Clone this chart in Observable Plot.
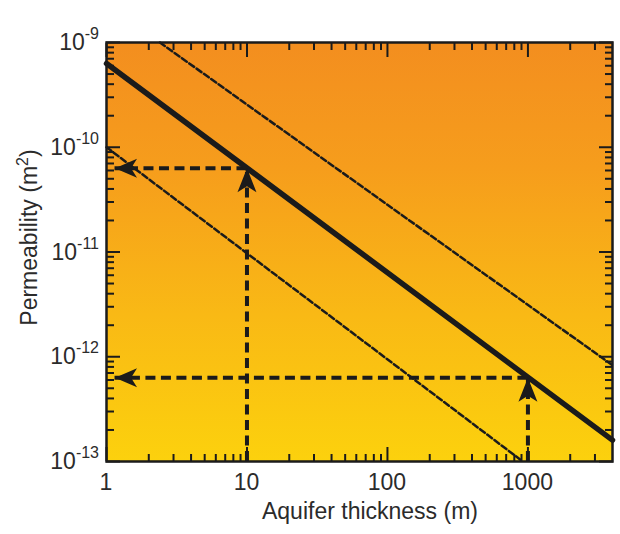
<!DOCTYPE html>
<html>
<head>
<meta charset="utf-8">
<script src="https://cdn.jsdelivr.net/npm/d3@7"></script>
<script src="https://cdn.jsdelivr.net/npm/@observablehq/plot@0.6"></script>
<style>
  html, body { margin: 0; padding: 0; background: #fff; overflow: hidden; }
  #chart svg { display: block; }
</style>
</head>
<body>
<div id="chart"></div>
<script>
// ---- data ----
const xDomain = [1, 4000];
const yDomain = [1e-13, 1e-9];

// thick solid line (end points)
const mainH = [1, 4000];
const mainK = [6.3e-10, 1.6e-13];
// thin dashed line above
const upperH = [2.4, 4000];
const upperK = [1e-9, 8.3e-13];
// thin dashed line below
const lowerH = [1, 920];
const lowerK = [1e-10, 1e-13];

// dashed read-off arrows
const arrowH = [10, 1000];
const arrowK = [6.3e-11, 6.3e-13];
const arrowTipH = 1.15;

// ticks
const xMajor = [1, 10, 100, 1000];
const xMinor = [2, 3, 4, 5, 6, 7, 8, 9, 20, 30, 40, 50, 60, 70, 80, 90,
                200, 300, 400, 500, 600, 700, 800, 900, 2000, 3000];
const xLabels = ["1", "10", "100", "1000"];
const yMajor = [1e-13, 1e-12, 1e-11, 1e-10, 1e-9];
const yExp = ["-13", "-12", "-11", "-10", "-9"];
const yMinorMult = [2, 3, 4, 5, 6, 7, 8, 9];
const yMinor = yMajor.slice(0, -1).flatMap(d => yMinorMult.map(m => m * d));

const xTitle = "Aquifer thickness (m)";
const yTitle = "Permeability (m";

// ---- tables built from the arrays ----
const line = (H, K) => H.map((h, i) => ({h, k: K[i]}));
const mainLine = line(mainH, mainK);
const upperLine = line(upperH, upperK);
const lowerLine = line(lowerH, lowerK);
const arrows = line(arrowH, arrowK);

const ink = "#1b1b1b";
const textColor = "#2b2b2b";
const fontFamily = "'Liberation Sans', Arial, Helvetica, sans-serif";

const upArrow = {draw(c) { c.moveTo(0, 0); c.lineTo(9.5, 24); c.lineTo(0, 18); c.lineTo(-9.5, 24); c.closePath(); }};
const leftArrow = {draw(c) { c.moveTo(0, 0); c.lineTo(22, -9.5); c.lineTo(16, 0); c.lineTo(22, 9.5); c.closePath(); }};

function background(index, scales, values, dims) {
  const {width, height, marginLeft, marginRight, marginTop, marginBottom} = dims;
  const g = d3.create("svg:g");
  const grad = g.append("defs").append("linearGradient")
    .attr("id", "bgGrad").attr("x1", 0).attr("y1", 0).attr("x2", 0).attr("y2", 1);
  [[0, "#F38E1F"], [0.3, "#F69D1C"], [0.65, "#F9B915"], [1, "#FCD10D"]].forEach(([o, c]) =>
    grad.append("stop").attr("offset", o).attr("stop-color", c));
  g.append("rect")
    .attr("x", marginLeft).attr("y", marginTop)
    .attr("width", width - marginLeft - marginRight)
    .attr("height", height - marginTop - marginBottom)
    .attr("fill", "url(#bgGrad)");
  return g.node();
}

function labels(index, scales, values, dims) {
  const {width, height, marginLeft, marginRight, marginTop, marginBottom} = dims;
  const g = d3.create("svg:g")
    .attr("font-family", fontFamily).attr("fill", textColor);
  // y tick labels with superscripts
  yMajor.forEach((v, i) => {
    const t = g.append("text")
      .attr("x", marginLeft - 7).attr("y", scales.y(v) + 8)
      .attr("text-anchor", "end").attr("font-size", 23);
    t.append("tspan").text("10");
    t.append("tspan").attr("dy", -11).attr("font-size", 16).text(yExp[i]);
  });
  // x tick labels
  xMajor.forEach((v, i) => {
    g.append("text")
      .attr("x", scales.x(v)).attr("y", height - marginBottom + 29)
      .attr("text-anchor", "middle").attr("font-size", 23).text(xLabels[i]);
  });
  // x title
  g.append("text")
    .attr("x", (marginLeft + width - marginRight) / 2 + 11)
    .attr("y", height - marginBottom + 58)
    .attr("text-anchor", "middle").attr("font-size", 23).text(xTitle);
  // y title
  const yt = g.append("text")
    .attr("transform", `translate(37,${(marginTop + height - marginBottom) / 2 - 14}) rotate(-90)`)
    .attr("text-anchor", "middle").attr("font-size", 23);
  yt.append("tspan").text(yTitle);
  yt.append("tspan").attr("dy", -9).attr("font-size", 16).text("2");
  yt.append("tspan").attr("dy", 9).text(")");
  return g.node();
}

const tickStyle = {fill: "none", stroke: ink, strokeWidth: 2, label: null};

const chart = Plot.plot({
  width: 620,
  height: 534,
  marginLeft: 106,
  marginRight: 8,
  marginTop: 42,
  marginBottom: 73,
  style: {background: "#fff", fontFamily, overflow: "visible"},
  x: {type: "log", domain: xDomain, axis: null},
  y: {type: "log", domain: yDomain, axis: null},
  marks: [
    background,
    Plot.line(upperLine, {x: "h", y: "k", stroke: ink, strokeWidth: 2.5, strokeDasharray: "6,3"}),
    Plot.line(lowerLine, {x: "h", y: "k", stroke: ink, strokeWidth: 2.5, strokeDasharray: "6,3"}),
    Plot.ruleX(arrows, {x: "h", y1: () => yDomain[0], y2: "k", stroke: ink, strokeWidth: 4, strokeDasharray: "10,5.5"}),
    Plot.ruleY(arrows, {y: "k", x1: "h", x2: () => arrowTipH, stroke: ink, strokeWidth: 4, strokeDasharray: "10,5.5"}),
    Plot.line(mainLine, {x: "h", y: "k", stroke: ink, strokeWidth: 5.5}),
    Plot.dot(arrows, {x: "h", y: "k", symbol: upArrow, fill: ink, stroke: "none"}),
    Plot.dot(arrows, {x: () => arrowTipH, y: "k", symbol: leftArrow, fill: ink, stroke: "none"}),
    Plot.axisX(xMajor, {anchor: "bottom", tickSize: -14, ...tickStyle}),
    Plot.axisX(xMinor, {anchor: "bottom", tickSize: -7, ...tickStyle}),
    Plot.axisX(xMajor, {anchor: "top", tickSize: -14, ...tickStyle}),
    Plot.axisX(xMinor, {anchor: "top", tickSize: -7, ...tickStyle}),
    Plot.axisY(yMajor, {anchor: "left", tickSize: -14, ...tickStyle}),
    Plot.axisY(yMinor, {anchor: "left", tickSize: -8, ...tickStyle}),
    Plot.axisY(yMajor, {anchor: "right", tickSize: -14, ...tickStyle}),
    Plot.axisY(yMinor, {anchor: "right", tickSize: -8, ...tickStyle}),
    Plot.frame({stroke: ink, strokeWidth: 2.5}),
    labels
  ]
});
document.getElementById("chart").append(chart);
</script>
</body>
</html>
